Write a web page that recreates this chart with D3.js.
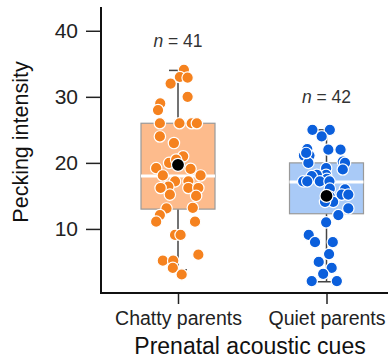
<!DOCTYPE html>
<html>
<head>
<meta charset="utf-8">
<script src="https://cdn.jsdelivr.net/npm/d3@7"></script>
<style>
  body { margin: 0; background: #fff; }
  text { font-family: "Liberation Sans", Arial, sans-serif; }
</style>
</head>
<body>
<svg id="chart" width="389" height="361"></svg>
<script>
// data
var groups = ['Chatty parents', 'Quiet parents'];
var groupN = [41, 42];
var q1 = [13.0, 12.3];
var medians = [18.0, 17.1];
var q3 = [26.0, 20.0];
var whiskerLow = [3.8, 2.0];
var whiskerHigh = [34.0, 25.0];
var means = [19.7, 15.0];
var yTicks = [10, 20, 30, 40];

var chattyValues = [34.1, 33.0, 32.9, 32.0, 30.0, 29.0, 28.0, 26.0, 26.0, 26.0, 26.0,
  24.0, 23.0, 21.0, 20.0, 19.2, 19.1, 18.1, 18.1, 17.2, 17.2, 16.4, 16.2, 16.2, 16.2,
  15.2, 15.0, 13.1, 13.2, 12.1, 11.1, 11.1, 9.1, 9.1, 6.1, 5.2, 5.2, 4.1, 3.1, 19.7, 20.5];
// horizontal jitter, as a fraction of half the box width
var chattyJitter = [0.16, 0.05, 0.26, -0.20, 0.26, -0.48, -0.54, -0.49, 0.04, 0.37, 0.51,
  -0.49, -0.11, 0.14, -0.24, -0.59, 0.34, -0.41, 0.61, -0.08, 0.28, -0.26, -0.47, 0.28, 0.55,
  -0.22, 0.49, -0.31, 0.40, -0.49, -0.59, 0.46, -0.08, 0.07, 0.55, -0.41, -0.13, -0.14, 0.10, 0.0, -0.05];

var quietValues = [25.0, 25.0, 24.0, 22.1, 22.0, 22.0, 21.1, 21.1, 20.0, 20.2, 20.0,
  19.0, 19.2, 18.2, 18.2, 18.0, 17.6, 17.2, 17.2, 17.2, 17.2, 16.0, 16.1, 15.2, 15.2,
  14.9, 14.1, 14.1, 13.1, 12.1, 11.0, 9.1, 8.0, 8.0, 6.2, 5.0, 4.1, 3.2, 2.1, 2.1, 15.0, 21.5];
var quietJitter = [-0.38, 0.09, -0.13, -0.52, 0.05, 0.38, -0.61, -0.46, -0.49, 0.44, 0.50,
  0.44, -0.01, -0.01, -0.26, -0.40, 0.01, -0.63, -0.52, -0.18, 0.08, 0.50, 0.09, 0.41, 0.59,
  0.09, 0.18, -0.04, 0.59, 0.32, -0.01, -0.48, -0.31, 0.17, 0.07, -0.21, 0.14, -0.09, -0.40, 0.28, 0.0, -0.55];

// style
var boxFill = ['#fdbb8c', '#a9caf7'];
var dotFill = ['#f5821f', '#0b5fdc'];
var boxHalf = 37;
var font = '"Liberation Sans", Arial, sans-serif';

var svg = d3.select('#chart');

var x = d3.scalePoint().domain(groups).range([178, 326.5]);
var y = d3.scaleLinear().domain([0.3, 43.6]).range([293, 7]);

// boxes
var boxes = svg.selectAll('g.box')
  .data(groups)
  .enter().append('g')
  .attr('class', 'box');

boxes.append('line')
  .attr('x1', function(d) { return x(d); })
  .attr('x2', function(d) { return x(d); })
  .attr('y1', function(d, i) { return y(whiskerLow[i]); })
  .attr('y2', function(d, i) { return y(whiskerHigh[i]); })
  .attr('stroke', '#444').attr('stroke-width', 1.5);

[whiskerLow, whiskerHigh].forEach(function(arr) {
  boxes.append('line')
    .attr('x1', function(d) { return x(d) - 9; })
    .attr('x2', function(d) { return x(d) + 9; })
    .attr('y1', function(d, i) { return y(arr[i]); })
    .attr('y2', function(d, i) { return y(arr[i]); })
    .attr('stroke', '#444').attr('stroke-width', 1.5);
});

boxes.append('rect')
  .attr('x', function(d) { return x(d) - boxHalf; })
  .attr('width', boxHalf * 2)
  .attr('y', function(d, i) { return y(q3[i]); })
  .attr('height', function(d, i) { return y(q1[i]) - y(q3[i]); })
  .attr('fill', function(d, i) { return boxFill[i]; })
  .attr('stroke', '#999').attr('stroke-width', 1.2);

boxes.append('line')
  .attr('x1', function(d) { return x(d) - boxHalf; })
  .attr('x2', function(d) { return x(d) + boxHalf; })
  .attr('y1', function(d, i) { return y(medians[i]); })
  .attr('y2', function(d, i) { return y(medians[i]); })
  .attr('stroke', '#fff').attr('stroke-width', 3);

// points
var series = [
  { values: chattyValues, jitter: chattyJitter },
  { values: quietValues, jitter: quietJitter }
];
series.forEach(function(s, gi) {
  svg.append('g').selectAll('circle')
    .data(s.values)
    .enter().append('circle')
    .attr('cx', function(v, i) { return x(groups[gi]) + s.jitter[i] * boxHalf; })
    .attr('cy', function(v) { return y(v); })
    .attr('r', 5.7)
    .attr('fill', dotFill[gi])
    .attr('stroke', '#fff').attr('stroke-width', 1.2);
});

// means
svg.append('g').selectAll('circle')
  .data(means)
  .enter().append('circle')
  .attr('cx', function(v, i) { return x(groups[i]); })
  .attr('cy', function(v) { return y(v); })
  .attr('r', 6.5)
  .attr('fill', '#000')
  .attr('stroke', '#fff').attr('stroke-width', 1.2);

// n labels
svg.append('g').selectAll('text')
  .data(groupN)
  .enter().append('text')
  .attr('x', function(d, i) { return x(groups[i]); })
  .attr('y', function(d, i) { return i === 0 ? 47 : 103; })
  .attr('text-anchor', 'middle')
  .attr('font-size', 17.5)
  .attr('fill', '#333')
  .each(function(d) {
    var t = d3.select(this);
    t.append('tspan').attr('font-style', 'italic').text('n');
    t.append('tspan').text(' = ' + d);
  });

// axes
var yAxis = svg.append('g')
  .attr('transform', 'translate(101,0)')
  .call(d3.axisLeft(y).tickValues(yTicks).tickSize(15).tickPadding(8).tickSizeOuter(0));
yAxis.select('.domain').remove();
yAxis.selectAll('line').attr('stroke', '#222').attr('stroke-width', 1.5);
yAxis.selectAll('text').attr('font-size', 21).attr('fill', '#222').style('font-family', font);

var xAxis = svg.append('g')
  .attr('transform', 'translate(0,293)')
  .call(d3.axisBottom(x).tickSize(11).tickPadding(7).tickSizeOuter(0));
xAxis.select('.domain').remove();
xAxis.selectAll('line').attr('stroke', '#222').attr('stroke-width', 1.5);
xAxis.selectAll('text').attr('font-size', 19.5).attr('fill', '#222').style('font-family', font);

svg.append('path')
  .attr('d', 'M101,7V293H388')
  .attr('fill', 'none')
  .attr('stroke', '#111')
  .attr('stroke-width', 2);

// titles
svg.append('text')
  .attr('x', 250).attr('y', 354)
  .attr('text-anchor', 'middle')
  .attr('font-size', 23)
  .attr('fill', '#111')
  .text('Prenatal acoustic cues');

svg.append('text')
  .attr('transform', 'translate(28,142) rotate(-90)')
  .attr('text-anchor', 'middle')
  .attr('font-size', 21.5)
  .attr('fill', '#111')
  .text('Pecking intensity');
</script>
</body>
</html>
